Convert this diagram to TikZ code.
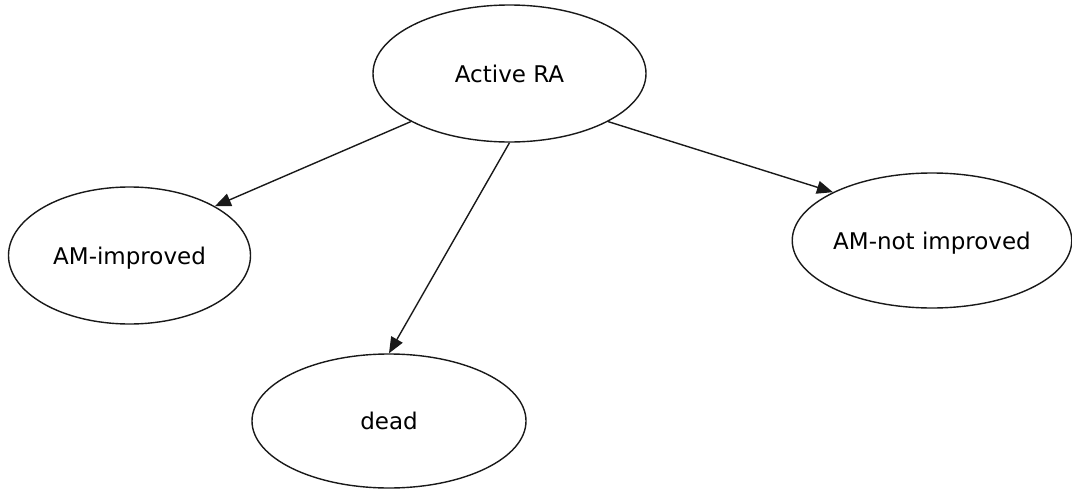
\documentclass[tikz,border=0pt]{standalone}
\usepackage{fontspec}
\setmainfont{DejaVu Sans}
\usetikzlibrary{shapes.geometric,arrows.meta}
\begin{document}
\begin{tikzpicture}[x=1pt,y=-1pt,
  state/.style={ellipse, draw=black!90, line width=1.4pt, inner sep=0pt,
    text depth=0pt, font=\fontsize{23}{28}\selectfont},
  link/.style={draw=black!90, line width=1.4pt,
    -{Triangle[length=16pt,width=13pt]}}]
\useasboundingbox (0,0) rectangle (1072,490);

% states
\node[state, minimum width=273pt, minimum height=137pt] (active)  at (509.5,73.5) {Active RA};
\node[state, minimum width=242pt, minimum height=137pt] (improved) at (129.5,255.5) {AM-improved};
\node[state, minimum width=274pt, minimum height=134pt] (dead)    at (389,421) {dead};
\node[state, minimum width=272pt, minimum height=135pt] (notimp)  at (932,240.5) {AM-not improved};

% transitions
\draw[link] (active.206) -- (improved.30);
\draw[link] (active.south) -- (dead.north);
\draw[link] (active.334) -- (notimp.154);
\end{tikzpicture}
\end{document}
